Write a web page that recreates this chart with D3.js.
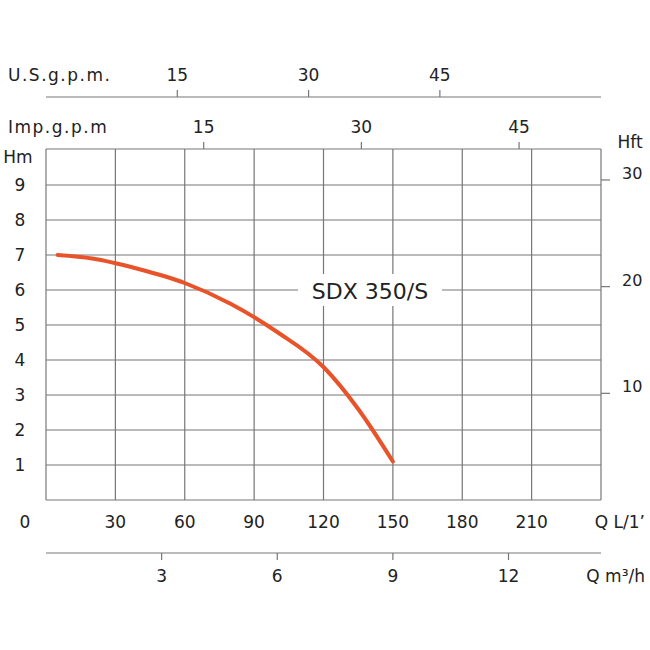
<!DOCTYPE html>
<html><head><meta charset="utf-8">
<script src="https://cdn.jsdelivr.net/npm/d3@7"></script>
<style>body{margin:0;background:#fff}text{font-family:"DejaVu Sans",sans-serif;fill:#222}</style>
</head><body>
<script>
// flow in L/min, head in m
const flowTicks = [30, 60, 90, 120, 150, 180, 210];
const headTicks = [1, 2, 3, 4, 5, 6, 7, 8, 9];
const ftTicks = [10, 20, 30];
const usTicks = [15, 30, 45];
const impTicks = [15, 30, 45];
const m3hTicks = [3, 6, 9, 12];
const curveFlow = [5, 20, 40, 60, 80, 100, 120, 135, 150];
const curveHead = [7.0, 6.9, 6.6, 6.2, 5.6, 4.8, 3.8, 2.6, 1.1];

const W = 650, H = 650;
const x = d3.scaleLinear().domain([0, 240]).range([46, 601]);
const y = d3.scaleLinear().domain([0, 10]).range([500, 150]);
const plotTop = 149;

const svg = d3.select('body').append('svg').attr('width', W).attr('height', H);
const grid = svg.append('g').attr('stroke', '#777').attr('stroke-width', 1.2);

// grid
d3.range(0, 241, 30).forEach(v => grid.append('line')
  .attr('x1', x(v)).attr('x2', x(v)).attr('y1', plotTop).attr('y2', y(0)));
[0].concat(headTicks).forEach(v => grid.append('line')
  .attr('x1', x(0)).attr('x2', x(240)).attr('y1', y(v)).attr('y2', y(v)));
grid.append('line').attr('x1', x(0)).attr('x2', x(240)).attr('y1', plotTop).attr('y2', plotTop);

const txt = (xx, yy, s, anchor = 'middle', size = 17) => svg.append('text')
  .attr('x', xx).attr('y', yy).attr('text-anchor', anchor)
  .attr('font-size', size).text(s);

// left Hm
headTicks.forEach(v => txt(20, y(v) + 6, v));
txt(18, 163, 'Hm');
// bottom L/min
txt(25, 528, '0');
flowTicks.forEach(v => txt(x(v), 528, v));
txt(645, 528, 'Q L/1\u2019', 'end');

// right Hft
ftTicks.forEach(v => {
  const yy = y(v * 0.3048);
  grid.append('line').attr('x1', 601).attr('x2', 610).attr('y1', yy).attr('y2', yy);
  txt(622, yy - 1, v, 'start', 16);
});
txt(630, 148, 'Hft');

// US gpm
const usY = 97;
grid.append('line').attr('x1', x(0)).attr('x2', x(240)).attr('y1', usY).attr('y2', usY);
usTicks.forEach(v => {
  const xx = x(v * 3.785);
  grid.append('line').attr('x1', xx).attr('x2', xx).attr('y1', usY).attr('y2', usY - 7);
  txt(xx, 81, v);
});
txt(8, 81, 'U.S.g.p.m.', 'start').attr('letter-spacing', 1.5);

// Imp gpm
impTicks.forEach(v => {
  const xx = x(v * 4.546);
  grid.append('line').attr('x1', xx).attr('x2', xx).attr('y1', plotTop).attr('y2', plotTop - 7);
  txt(xx, 133, v);
});
txt(8, 133, 'Imp.g.p.m', 'start').attr('letter-spacing', 1.5);

// m3/h
const mY = 553;
grid.append('line').attr('x1', x(0)).attr('x2', x(240)).attr('y1', mY).attr('y2', mY);
m3hTicks.forEach(v => {
  const xx = x(v * 1000 / 60);
  grid.append('line').attr('x1', xx).attr('x2', xx).attr('y1', mY).attr('y2', mY + 7);
  txt(xx, 582, v);
});
txt(645, 582, 'Q m\u00b3/h', 'end');

// curve
const line = d3.line().x((d, i) => x(curveFlow[i])).y(d => y(d)).curve(d3.curveMonotoneX);
svg.append('path').datum(curveHead).attr('d', line)
  .attr('fill', 'none').attr('stroke', '#e8532a').attr('stroke-width', 4)
  .attr('stroke-linecap', 'round');

// label
svg.append('rect').attr('x', 298).attr('y', 274).attr('width', 144).attr('height', 32).attr('fill', '#fff');
txt(370, 299, 'SDX 350/S', 'middle', 22);
</script>
</body></html>
